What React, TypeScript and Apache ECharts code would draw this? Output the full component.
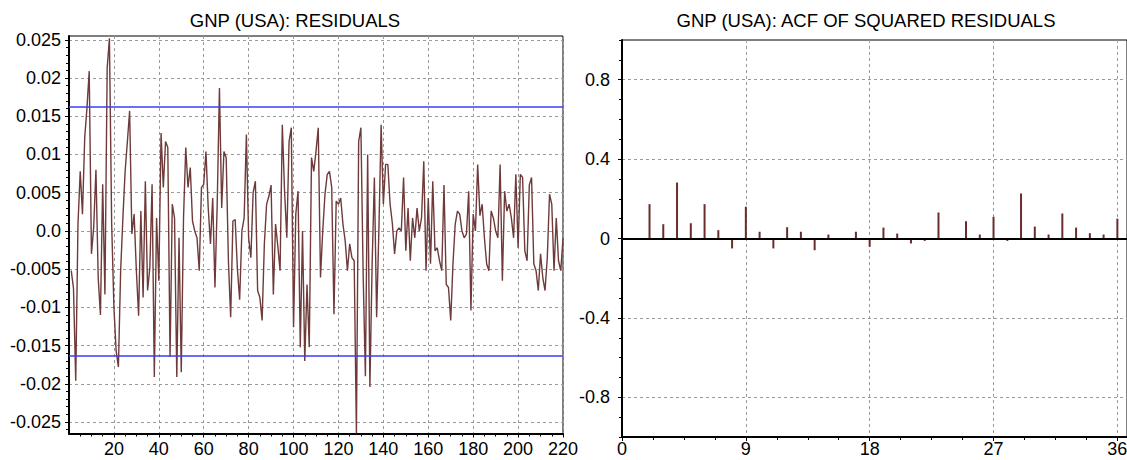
import React, { useEffect, useRef } from "react";
import * as echarts from "echarts";

// ---------- DATA ----------
const leftTitle = "GNP (USA): RESIDUALS";
const rightTitle = "GNP (USA): ACF OF SQUARED RESIDUALS";

// residuals, observations 1..220
const residuals = [
  -0.0052, -0.0075, -0.0196, 0.0009, 0.0078, 0.0022, 0.0122, 0.0161, 0.0209, -0.003,
  0.0005, 0.008, -0.0061, -0.011, 0.0061, -0.0083, 0.0213, 0.0252, 0.001, -0.01,
  -0.0157, -0.0178, -0.0052, 0.0017, 0.0078, 0.0117, 0.0157, -0.0004, 0.0022, -0.0052,
  -0.0111, 0.0026, -0.0087, 0.0065, -0.0078, -0.0048, 0.0061, -0.0191, 0.0017, -0.0065,
  0.0128, 0.0057, 0.0117, 0.0109, -0.0165, 0.0035, 0.0017, -0.0191, -0.0009, -0.0185,
  0.0017, 0.0109, 0.0057, 0.0083, 0.0013, 0.0, -0.0009, -0.0052, 0.0057, 0.0061,
  0.0104, 0.003, -0.0017, 0.0043, -0.0074, 0.0035, 0.0187, 0.003, 0.0104, 0.0096,
  -0.004, -0.0113, 0.0013, 0.0015, -0.005, -0.009, 0.0, 0.0017, 0.0126, -0.0009,
  -0.0035, 0.005, 0.0065, -0.0078, -0.0087, -0.0117, -0.0017, 0.0035, 0.0045, 0.006,
  -0.0083, 0.0009, -0.002, -0.0052, 0.0139, 0.0052, -0.0009, 0.0117, 0.0135, -0.0126,
  0.0022, 0.0052, -0.0152, 0.0, -0.017, -0.007, -0.0152, 0.0096, 0.0078, 0.0104,
  0.0135, -0.0061, 0.0, 0.0048, 0.0074, 0.0078, 0.0057, -0.0109, 0.0039, 0.0035,
  0.0043, 0.0009, -0.0013, -0.0052, -0.0017, -0.0035, -0.0039, -0.0265, 0.0117, 0.0135,
  -0.0057, -0.019, 0.01, -0.0204, -0.0043, 0.007, -0.0113, 0.0, 0.0139, 0.0035,
  0.0087, 0.0087, 0.0035, 0.001, -0.003, 0.0, 0.0004, 0.0, 0.007, -0.0026,
  0.003, -0.0039, 0.0017, -0.0009, 0.003, 0.0, 0.0017, 0.0091, -0.0052, 0.0043,
  -0.0043, 0.0065, -0.0026, -0.0022, -0.0039, -0.0052, 0.006, -0.007, -0.0074, -0.0117,
  -0.0043, 0.0009, 0.0026, 0.0022, 0.0, -0.0009, -0.0004, 0.0052, -0.0104, 0.0022,
  0.0, 0.0087, 0.002, 0.0035, -0.0009, -0.0043, -0.0052, 0.0026, 0.0017, 0.0,
  -0.0009, 0.0087, -0.0065, 0.0052, 0.0026, 0.0035, 0.0017, -0.0009, 0.0074, -0.0022,
  0.0074, 0.007, -0.0026, -0.0039, 0.006, 0.007, -0.0043, -0.0052, -0.0078, -0.003,
  -0.0061, -0.0078, -0.0035, 0.0048, 0.0035, -0.0052, 0.0017, -0.0039, -0.0052, -0.001,
];
const bandLimit = 0.0163;

// ACF of squared residuals, lags 1..36
const acfValues = [
  0.0, 0.173, 0.072, 0.282, 0.077, 0.173, 0.042, -0.05, 0.16, 0.034,
  -0.05, 0.057, 0.034, -0.059, 0.02, -0.005, 0.034, -0.042, 0.055, 0.025,
  -0.025, -0.012, 0.131, 0.0, 0.087, 0.02, 0.109, -0.012, 0.227, 0.06,
  0.02, 0.126, 0.055, 0.027, 0.02, 0.1,
];

const leftXTicks = [20, 40, 60, 80, 100, 120, 140, 160, 180, 200, 220];
const leftYTicks = [-0.025, -0.02, -0.015, -0.01, -0.005, 0, 0.005, 0.01, 0.015, 0.02, 0.025];
const rightXTicks = [0, 9, 18, 27, 36];
const rightYTicks = [-0.8, -0.4, 0, 0.4, 0.8];

const leftXMinor = Array.from({ length: 44 }, (_, i) => (i + 1) * 5);
const leftYMinor = Array.from({ length: 52 }, (_, i) => (i - 26) / 1000);
const rightXMinor = Array.from({ length: 17 }, (_, i) => i * 2.25);
const rightYMinor = Array.from({ length: 21 }, (_, i) => (i - 10) / 10);

// ---------- STYLE ----------
const FONT = "'Liberation Sans', Arial, sans-serif";
const gridLine = { show: true, lineStyle: { color: "#9a9a9a", width: 1, type: [3, 3] as any } };

function mainAxis(extra: any) {
  return {
    type: "value",
    axisLine: { show: true, onZero: false, lineStyle: { color: "#000", width: 2 } },
    axisTick: { show: true, length: 4, lineStyle: { color: "#000", width: 1 } },
    axisLabel: { color: "#000", fontSize: 18, fontFamily: FONT },
    splitLine: gridLine,
    ...extra,
  };
}
function minorAxis(extra: any, ticks: number[]) {
  return {
    type: "value",
    axisLine: { show: false, onZero: false },
    axisTick: { show: true, length: 3, customValues: ticks, lineStyle: { color: "#000", width: 1 } },
    axisLabel: { show: false },
    splitLine: { show: false },
    ...extra,
  };
}

export default function App() {
  const ref = useRef<HTMLDivElement>(null);
  useEffect(() => {
    if (!ref.current) return;
    const chart = echarts.init(ref.current, undefined, { renderer: "svg" });
    const titleStyle = { fontSize: 18.5, fontWeight: "normal", color: "#000", fontFamily: FONT };
    chart.setOption({
      animation: false,
      backgroundColor: "#fff",
      title: [
        { text: leftTitle, left: 295, top: 11, textAlign: "center", padding: 0, textStyle: titleStyle },
        { text: rightTitle, left: 866, top: 11, textAlign: "center", padding: 0, textStyle: titleStyle },
      ],
      grid: [
        { left: 69, right: 564, top: 36, bottom: 26.5, show: true, borderColor: "#000", borderWidth: 1, containLabel: false, outerBoundsMode: "none" },
        { left: 622, right: 0, top: 40, bottom: 23, show: true, borderColor: "#000", borderWidth: 1, containLabel: false, outerBoundsMode: "none" },
      ],
      xAxis: [
        mainAxis({
          gridIndex: 0, min: 0, max: 220, position: "bottom",
          axisTick: { show: true, length: 4, customValues: leftXTicks, lineStyle: { color: "#000" } },
          axisLabel: { color: "#000", fontSize: 18, fontFamily: FONT, margin: 6, customValues: leftXTicks },
        }),
        minorAxis({ gridIndex: 0, min: 0, max: 220, position: "bottom" }, leftXMinor),
        mainAxis({
          gridIndex: 1, min: 0, max: 36.7, position: "bottom",
          axisTick: { show: true, length: 4, customValues: rightXTicks, lineStyle: { color: "#000" } },
          axisLabel: { color: "#000", fontSize: 18, fontFamily: FONT, margin: 3, customValues: rightXTicks },
        }),
        minorAxis({ gridIndex: 1, min: 0, max: 36.7, position: "bottom" }, rightXMinor),
      ],
      yAxis: [
        mainAxis({
          gridIndex: 0, min: -0.0265, max: 0.0255, position: "left",
          axisTick: { show: true, length: 4, customValues: leftYTicks, lineStyle: { color: "#000" } },
          axisLabel: {
            color: "#000", fontSize: 18, fontFamily: FONT, margin: 8, customValues: leftYTicks,
            formatter: (v: number) => (v === 0 ? "0.0" : String(parseFloat(v.toFixed(4)))),
          },
        }),
        minorAxis({ gridIndex: 0, min: -0.0265, max: 0.0255, position: "left" }, leftYMinor),
        mainAxis({
          gridIndex: 1, min: -1, max: 1, position: "left",
          axisTick: { show: true, length: 4, customValues: rightYTicks, lineStyle: { color: "#000" } },
          axisLabel: {
            color: "#000", fontSize: 18, fontFamily: FONT, margin: 12, customValues: rightYTicks,
            formatter: (v: number) => (v === 0 ? "0" : String(parseFloat(v.toFixed(2)))),
          },
        }),
        minorAxis({ gridIndex: 1, min: -1, max: 1, position: "left" }, rightYMinor),
      ],
      series: [
        {
          type: "line",
          xAxisIndex: 0,
          yAxisIndex: 0,
          data: residuals.map((v, i) => [i + 1, v]),
          showSymbol: false,
          symbol: "none",
          lineStyle: { color: "#6e3a3a", width: 1.4 },
          clip: true,
          markLine: {
            silent: true,
            symbol: "none",
            precision: 5,
            label: { show: false },
            lineStyle: { color: "#3b3bff", width: 1.5, type: "solid" },
            data: [{ yAxis: bandLimit }, { yAxis: -bandLimit }],
          },
        },
        {
          type: "bar",
          xAxisIndex: 2,
          yAxisIndex: 2,
          data: acfValues.map((v, i) => [i + 1, v]),
          barWidth: 2,
          itemStyle: { color: "#6b2c2c" },
          markLine: {
            silent: true,
            symbol: "none",
            label: { show: false },
            lineStyle: { color: "#000", width: 2, type: "solid" },
            data: [{ yAxis: 0 }],
          },
        },
      ],
    });
    return () => chart.dispose();
  }, []);
  return (
    <div
      ref={ref}
      style={{ position: "fixed", left: 0, top: 0, width: 1127, height: 460, background: "#fff" }}
    />
  );
}
